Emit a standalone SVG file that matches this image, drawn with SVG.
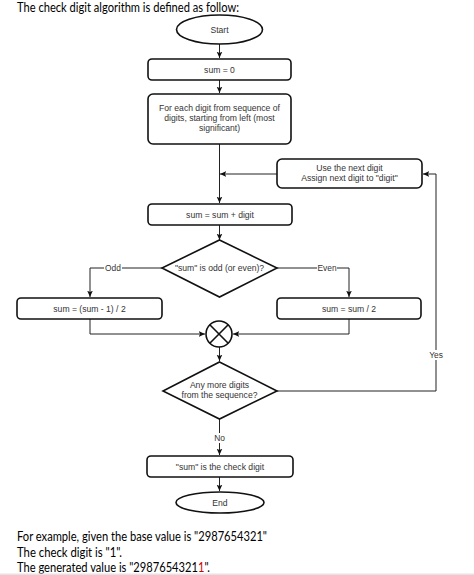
<svg xmlns="http://www.w3.org/2000/svg" width="474" height="575" viewBox="0 0 474 575">
<style>
.node{fill:#fff;stroke:#111;stroke-width:1.6}
.t{font-family:"Liberation Sans",Arial,sans-serif;font-size:8.6px;fill:#333;text-anchor:middle}
.c{fill:none;stroke:#222;stroke-width:1}
.doc{font-family:Lato,"Open Sans",sans-serif;font-size:13px}
.lbl{font-family:"Liberation Sans",Arial,sans-serif;font-size:8.4px;fill:#333;text-anchor:middle}
</style>
<defs>
<marker id="ah" viewBox="0 0 10 10" refX="9" refY="5" markerWidth="7" markerHeight="7" orient="auto" markerUnits="userSpaceOnUse">
<path d="M0,1 L9,5 L0,9 L2,5 Z" fill="#111"/>
</marker>
</defs>
<rect width="474" height="575" fill="#fff"/>
<text class="doc" x="17" y="12" fill="#000" textLength="222" lengthAdjust="spacingAndGlyphs">The check digit algorithm is defined as follow:</text>

<g id="connectors">
<path class="c" d="M219.5,44 V58" marker-end="url(#ah)"/>
<path class="c" d="M219.5,80 V93" marker-end="url(#ah)"/>
<path class="c" d="M219.5,144 V203" marker-end="url(#ah)"/>
<path class="c" d="M277,174 H220" marker-end="url(#ah)"/>
<path class="c" d="M219.5,225 V240" marker-end="url(#ah)"/>
<path class="c" d="M162,268 H90 V297" marker-end="url(#ah)"/>
<path class="c" d="M277,268 H349 V297" marker-end="url(#ah)"/>
<path class="c" d="M90,319 V334 H205" marker-end="url(#ah)"/>
<path class="c" d="M349,319 V334 H233" marker-end="url(#ah)"/>
<path class="c" d="M219.5,347 V361" marker-end="url(#ah)"/>
<path class="c" d="M277,391 H436 V174 H423" marker-end="url(#ah)"/>
<path class="c" d="M219.5,419 V455" marker-end="url(#ah)"/>
<path class="c" d="M219.5,477 V491" marker-end="url(#ah)"/>
<rect x="104" y="264" width="18" height="9" fill="#fff"/>
<text class="lbl" x="113" y="271">Odd</text>
<rect x="317" y="264" width="20" height="9" fill="#fff"/>
<text class="lbl" x="327" y="271">Even</text>
<rect x="428" y="350" width="16" height="10" fill="#fff"/>
<text class="lbl" x="436" y="358">Yes</text>
<rect x="212" y="433" width="15" height="10" fill="#fff"/>
<text class="lbl" x="219.5" y="441">No</text>
</g>

<g id="start">
<ellipse class="node" cx="219.5" cy="29.5" rx="43" ry="14.5"/>
<text class="t" x="219.5" y="32.5">Start</text>
</g>
<g id="init">
<rect class="node" x="148" y="59" width="143" height="21" rx="4"/>
<text class="t" x="219.5" y="72.5">sum = 0</text>
</g>
<g id="foreach">
<rect class="node" x="148" y="94" width="143" height="50" rx="5"/>
<text class="t" x="219.5" y="111">For each digit from sequence of</text>
<text class="t" x="219.5" y="121">digits, starting from left (most</text>
<text class="t" x="219.5" y="131">significant)</text>
</g>
<g id="nextdigit">
<rect class="node" x="277" y="159" width="145" height="29" rx="5"/>
<text class="t" x="349.5" y="171">Use the next digit</text>
<text class="t" x="349.5" y="181">Assign next digit to "digit"</text>
</g>
<g id="add">
<rect class="node" x="148" y="204" width="144" height="21" rx="4"/>
<text class="t" x="220" y="217.5">sum = sum + digit</text>
</g>
<g id="oddeven">
<path class="node" d="M219.5,240 L277,268 L219.5,297 L162,268 Z"/>
<text class="t" x="219.5" y="271">"sum" is odd (or even)?</text>
</g>
<g id="odd">
<rect class="node" x="17" y="298" width="145" height="21" rx="4"/>
<text class="t" x="89.5" y="311.5">sum = (sum - 1) / 2</text>
</g>
<g id="even">
<rect class="node" x="277" y="298" width="144" height="21" rx="4"/>
<text class="t" x="349" y="311.5">sum = sum / 2</text>
</g>
<g id="merge">
<circle class="node" cx="219" cy="334" r="13"/>
<path d="M209.8,324.8 L228.2,343.2 M228.2,324.8 L209.8,343.2" stroke="#111" stroke-width="1.6"/>
</g>
<g id="more">
<path class="node" d="M219.5,362 L277,391 L219.5,419 L163,391 Z"/>
<text class="t" x="219.5" y="388">Any more digits</text>
<text class="t" x="219.5" y="398">from the sequence?</text>
</g>
<g id="result">
<rect class="node" x="147" y="456" width="146" height="21" rx="4"/>
<text class="t" x="220" y="469.5">"sum" is the check digit</text>
</g>
<g id="end">
<ellipse class="node" cx="220" cy="502.5" rx="44" ry="10.5"/>
<text class="t" x="220" y="505.5">End</text>
</g>

<text class="doc" x="17" y="541" fill="#000" textLength="250" lengthAdjust="spacingAndGlyphs">For example, given the base value is "2987654321"</text>
<text class="doc" x="17" y="557" fill="#000" textLength="105" lengthAdjust="spacingAndGlyphs">The check digit is "1".</text>
<text class="doc" x="17" y="572" fill="#000" textLength="193" lengthAdjust="spacingAndGlyphs">The generated value is "2987654321<tspan fill="#d00000">1</tspan>".</text>
<rect x="0" y="573.5" width="474" height="1.5" fill="#e4e4e4"/>
</svg>
